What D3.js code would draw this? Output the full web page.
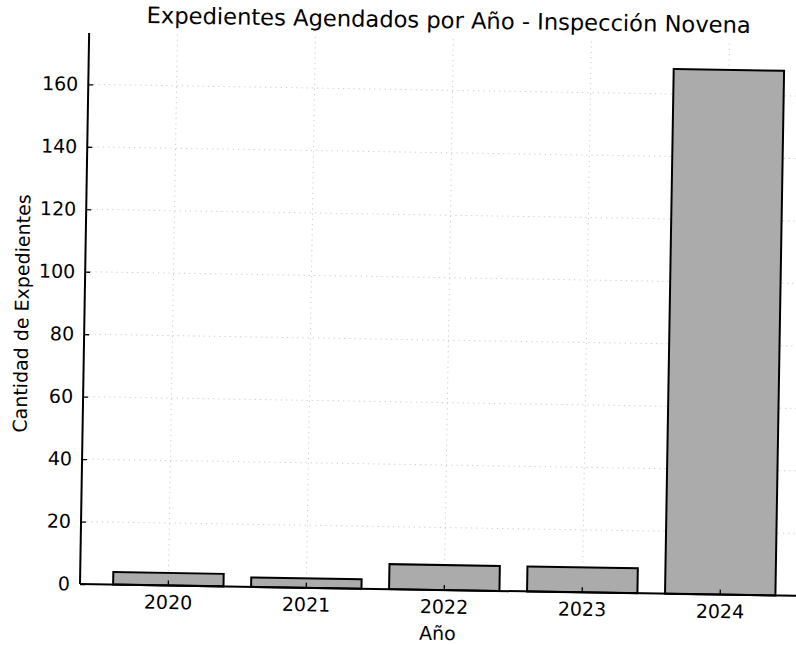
<!DOCTYPE html>
<html>
<head>
<meta charset="utf-8">
<script src="https://cdn.jsdelivr.net/npm/d3@7"></script>
<style>
  html, body { margin: 0; padding: 0; background: #fff; }
  svg { display: block; }
  text { font-family: "DejaVu Sans", sans-serif; fill: #000; }
</style>
</head>
<body>
<svg id="chart" width="796" height="645"></svg>
<script>
const years = ["2020", "2021", "2022", "2023", "2024"];
const counts = [4, 3, 8, 8, 168];
const yTicks = [0, 20, 40, 60, 80, 100, 120, 140, 160];
const titleText = "Expedientes Agendados por Año - Inspección Novena";
const xLabel = "Año";
const yLabel = "Cantidad de Expedientes";

(function () {
const svg = d3.select("#chart");
const mL = 80, mR = 808.6, mT = 33, mB = 584;

const g = svg.append("g").attr("transform", `rotate(0.95, ${mL}, ${mB})`);

const x = d3.scaleBand().domain(years).range([mL, mR]).paddingInner(0.2).paddingOuter(0.24);
const y = d3.scaleLinear().domain([0, d3.max(counts) * 1.05]).range([mB, mT]);

// grid
const grid = g.append("g").attr("stroke", "#c4c4c4").attr("stroke-width", 0.9).attr("stroke-dasharray", "1.2,4");
grid.selectAll("line.h").data(yTicks).join("line")
  .attr("x1", mL).attr("x2", mR).attr("y1", d => y(d)).attr("y2", d => y(d));
grid.selectAll("line.v").data(years).join("line")
  .attr("x1", d => x(d) + x.bandwidth() / 2).attr("x2", d => x(d) + x.bandwidth() / 2)
  .attr("y1", mT).attr("y2", mB);

// bars
g.append("g").selectAll("rect").data(years).join("rect")
  .attr("x", d => x(d))
  .attr("y", (d, i) => y(counts[i]))
  .attr("width", x.bandwidth())
  .attr("height", (d, i) => y(0) - y(counts[i]))
  .attr("fill", "#ababab")
  .attr("stroke", "#000")
  .attr("stroke-width", 2);

// axes (ticks inside)
const yAxis = g.append("g").attr("transform", `translate(${mL},0)`)
  .call(d3.axisLeft(y).tickValues(yTicks).tickSizeInner(-5).tickSizeOuter(0).tickPadding(10));
const xAxis = g.append("g").attr("transform", `translate(0,${mB})`)
  .call(d3.axisBottom(x).tickSizeInner(-5).tickSizeOuter(0).tickPadding(10));
[yAxis, xAxis].forEach(a => {
  a.select(".domain").remove();
  a.selectAll("line").attr("stroke", "#000").attr("stroke-width", 1.3);
  a.selectAll("text").attr("font-size", 19).attr("font-family", "DejaVu Sans").attr("fill", "#000");
});
// spines
g.append("line").attr("x1", mL).attr("x2", mL).attr("y1", mT).attr("y2", mB)
  .attr("stroke", "#000").attr("stroke-width", 2);
g.append("line").attr("x1", mL).attr("x2", mR).attr("y1", mB).attr("y2", mB)
  .attr("stroke", "#000").attr("stroke-width", 2);

// labels
g.append("text").attr("x", (mL + mR) / 2 - 5).attr("y", 22)
  .attr("text-anchor", "middle").attr("font-size", 22.6).text(titleText);
g.append("text").attr("x", (mL + mR) / 2 - 6).attr("y", 634)
  .attr("text-anchor", "middle").attr("font-size", 19).text(xLabel);
g.append("text").attr("transform", `translate(${24},${(mT + mB) / 2 + 6}) rotate(-90)`)
  .attr("text-anchor", "middle").attr("font-size", 19).text(yLabel);
})();
</script>
</body>
</html>
